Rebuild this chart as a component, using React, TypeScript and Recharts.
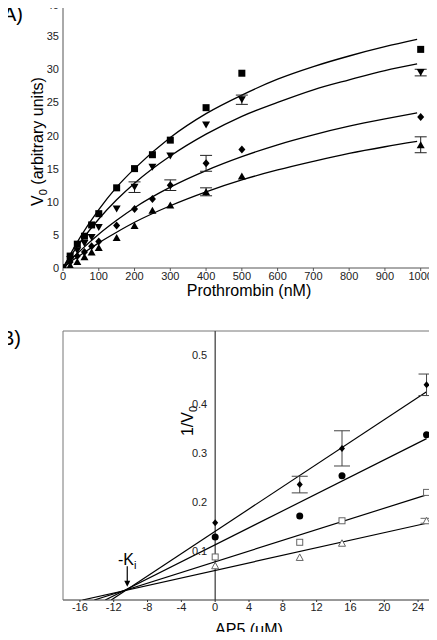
import { ComposedChart, Scatter, Line, XAxis, YAxis, ErrorBar, ReferenceLine, ReferenceDot } from "recharts"

const FONT = "'Liberation Sans', Arial, sans-serif"

// ---- Panel A: V0 vs prothrombin ----
const prothrombin = [0, 20, 40, 60, 80, 100, 150, 200, 250, 300, 400, 500, 1000]
const vSquare = [0, 1.8, 3.6, 4.8, 6.5, 8.2, 12.1, 15.0, 17.1, 19.3, 24.2, 29.4, 33.0]
const vInvTri = [0, 1.3, 2.6, 3.7, 4.6, 6.1, 8.9, 12.2, 15.2, 16.9, 21.6, 25.4, 29.5]
const vDiamond = [0, 0.9, 1.8, 2.4, 3.3, 4.0, 6.4, 8.9, 10.4, 12.5, 15.8, 17.9, 22.8]
const vTri = [0, 0.4, 1.0, 1.7, 2.4, 3.1, 4.6, 6.4, 8.7, 9.5, 11.5, 13.9, 18.6]
const errInvTri = [0, 0, 0, 0, 0, 0, 0, 0.8, 0, 0, 0, 0.7, 0.5]
const errDiamond = [0, 0, 0, 0, 0, 0, 0, 0, 0, 0.8, 1.2, 0, 0]
const errTri = [0, 0, 0, 0, 0, 0, 0, 0, 0, 0, 0.6, 0, 1.2]

// fitted curves
const fitX = [0, 25, 50, 100, 150, 200, 300, 400, 500, 600, 700, 800, 900, 990]
const fitSquare = [0, 2.5, 4.8, 8.8, 12.2, 15.0, 19.7, 23.3, 26.1, 28.5, 30.4, 32.0, 33.4, 34.5]
const fitInvTri = [0, 2.1, 4.0, 7.4, 10.3, 12.8, 16.9, 20.2, 22.9, 25.0, 26.9, 28.4, 29.8, 30.8]
const fitDiamond = [0, 1.4, 2.7, 5.1, 7.2, 9.1, 12.2, 14.7, 16.8, 18.6, 20.1, 21.4, 22.5, 23.4]
const fitTri = [0, 1.1, 2.0, 3.8, 5.4, 6.9, 9.4, 11.5, 13.3, 14.8, 16.1, 17.3, 18.3, 19.1]

const xTicksA = [0, 100, 200, 300, 400, 500, 600, 700, 800, 900, 1000]
const yTicksA = [0, 5, 10, 15, 20, 25, 30, 35, 40]

// ---- Panel B: 1/V0 vs AP5 ----
const ap5 = [0, 10, 15, 25]
const invDiamond = [0.158, 0.236, 0.31, 0.44]
const invDiamondErr = [0, 0.017, 0.036, 0.022]
const invCircle = [0.129, 0.172, 0.254, 0.338]
const invSquare = [0.088, 0.118, 0.162, 0.22]
const invTri = [0.07, 0.087, 0.116, 0.162]
const invTriErr = [0, 0, 0, 0.005]

// fit lines: x where they meet the axis, value at 25 uM
const lineStartX = [-12.3, -13.0, -14.3, -15.7]
const lineEndY = [0.426, 0.33, 0.215, 0.157]
const lineEndX = 25

const xTicksB = [-16, -12, -8, -4, 0, 4, 8, 12, 16, 20, 24]
const yTicksB = [0.1, 0.2, 0.3, 0.4, 0.5]
const kiX = -10.4

const X_DOMAIN_A: [number, number] = [0, 1040]
const X_DOMAIN_B: [number, number] = [-18, 26]
const PLOT_W = 372
const ZERO_PX_B = ((0 - X_DOMAIN_B[0]) / (X_DOMAIN_B[1] - X_DOMAIN_B[0])) * PLOT_W

const minorA = Array.from({ length: 53 }, (_, i) => i * 20)
const minorB = Array.from({ length: 45 }, (_, i) => i - 18)

const pts = (xs: number[], ys: number[], errs?: number[]) =>
  xs.map((x, i) => ({ x, y: ys[i], err: errs ? errs[i] : 0 }))

const fitLine = (i: number) => [
  { x: lineStartX[i], y: 0 },
  { x: lineEndX, y: lineEndY[i] },
]

// marker shapes
const Square = ({ cx, cy }: any) => <rect x={cx - 3.5} y={cy - 3.5} width={7} height={7} fill="#000" />
const TriDown = ({ cx, cy }: any) => (
  <polygon points={`${cx - 4},${cy - 3.5} ${cx + 4},${cy - 3.5} ${cx},${cy + 3.5}`} fill="#000" />
)
const TriUp = ({ cx, cy }: any) => (
  <polygon points={`${cx - 4},${cy + 3.5} ${cx + 4},${cy + 3.5} ${cx},${cy - 3.5}`} fill="#000" />
)
const Diamond = ({ cx, cy }: any) => (
  <polygon points={`${cx},${cy - 4} ${cx + 3.5},${cy} ${cx},${cy + 4} ${cx - 3.5},${cy}`} fill="#000" />
)
const SmallDiamond = ({ cx, cy }: any) => (
  <polygon points={`${cx},${cy - 3.5} ${cx + 3},${cy} ${cx},${cy + 3.5} ${cx - 3},${cy}`} fill="#000" />
)
const Dot = ({ cx, cy }: any) => <circle cx={cx} cy={cy} r={3.5} fill="#000" />
const OpenSquare = ({ cx, cy }: any) => (
  <rect x={cx - 3} y={cy - 3} width={6} height={6} fill="#fff" stroke="#666" strokeWidth={1} />
)
const OpenTri = ({ cx, cy }: any) => (
  <polygon points={`${cx - 3.5},${cy + 3} ${cx + 3.5},${cy + 3} ${cx},${cy - 3.5}`} fill="#fff" stroke="#666" strokeWidth={1} />
)

const YTitleA = ({ viewBox }: any) => {
  const x = 37
  const y = viewBox.y + viewBox.height / 2 + 6
  return (
    <text x={x} y={y} transform={`rotate(-90 ${x} ${y})`} textAnchor="middle" dominantBaseline="central" fontSize={16} fill="#000">
      V<tspan baselineShift="sub" fontSize={11}>0</tspan>
      <tspan> (arbitrary units)</tspan>
    </text>
  )
}

const YTitleB = ({ viewBox }: any) => {
  const x = viewBox.x + viewBox.width + ZERO_PX_B - 28
  const y = viewBox.y + 90
  return (
    <text x={x} y={y} transform={`rotate(-90 ${x} ${y})`} textAnchor="middle" dominantBaseline="central" fontSize={16} fill="#000">
      1/V<tspan baselineShift="sub" fontSize={11}>0</tspan>
    </text>
  )
}

const KiLabel = ({ cx, cy }: any) => (
  <text x={cx} y={cy} textAnchor="middle" dominantBaseline="central" fontSize={16} fill="#000">
    -K<tspan baselineShift="sub" fontSize={11}>i</tspan>
  </text>
)

const Arrow = ({ x1, y1, x2, y2 }: any) => (
  <g>
    <line x1={x1} y1={y1} x2={x2} y2={y2 - 5} stroke="#000" strokeWidth={1.2} />
    <polygon points={`${x2 - 3},${y2 - 6} ${x2 + 3},${y2 - 6} ${x2},${y2}`} fill="#000" />
  </g>
)

const tickStyle = { fontSize: 11, fill: "#222" }

// y tick for panel A, kept inside the picture at the top
const YTickA = (p: any) => (
  <text x={p.x} y={Math.max(p.y, 5)} dy={4} textAnchor="end" fontSize={11} fill="#222">
    {p.payload.value}
  </text>
)

function PanelA() {
  const curves = [fitSquare, fitInvTri, fitDiamond, fitTri]
  return (
    <ComposedChart width={437} height={300} margin={{ top: 3, right: 2, bottom: 0, left: 0 }}>
      <XAxis
        type="number"
        dataKey="x"
        domain={X_DOMAIN_A}
        allowDataOverflow
        ticks={xTicksA}
        interval={0}
        tickSize={3}
        tickMargin={1}
        tick={tickStyle}
        stroke="#555"
        height={32}
        label={{ value: "Prothrombin (nM)", position: "insideBottom", offset: 4, fontSize: 16, fill: "#000" }}
      />
      <XAxis xAxisId="minor" type="number" dataKey="x" domain={X_DOMAIN_A} allowDataOverflow ticks={minorA} interval={0} mirror tick={false} axisLine={false} tickSize={2} stroke="#666" />
      <YAxis
        type="number"
        dataKey="y"
        domain={[0, 40]}
        allowDataOverflow
        ticks={yTicksA}
        interval={0}
        width={63}
        tickLine={false}
        tickSize={4}
        tickMargin={0}
        tick={YTickA}
        stroke="#555"
        label={<YTitleA />}
      />
      <ReferenceLine y={40} stroke="#777" />
      <ReferenceLine x={1040} stroke="#777" />
      {curves.map((c, i) => (
        <Line
          key={i}
          data={pts(fitX, c)}
          dataKey="y"
          type="monotone"
          dot={false}
          stroke="#000"
          strokeWidth={1.3}
          isAnimationActive={false}
        />
      ))}
      <Scatter data={pts(prothrombin, vSquare)} dataKey="y" shape={Square} isAnimationActive={false} />
      <Scatter data={pts(prothrombin, vInvTri, errInvTri)} dataKey="y" shape={TriDown} isAnimationActive={false}>
        <ErrorBar dataKey="err" direction="y" width={6} stroke="#222" strokeWidth={1} />
      </Scatter>
      <Scatter data={pts(prothrombin, vDiamond, errDiamond)} dataKey="y" shape={Diamond} isAnimationActive={false}>
        <ErrorBar dataKey="err" direction="y" width={6} stroke="#222" strokeWidth={1} />
      </Scatter>
      <Scatter data={pts(prothrombin, vTri, errTri)} dataKey="y" shape={TriUp} isAnimationActive={false}>
        <ErrorBar dataKey="err" direction="y" width={6} stroke="#222" strokeWidth={1} />
      </Scatter>
    </ComposedChart>
  )
}

function PanelB() {
  return (
    <ComposedChart width={437} height={340} margin={{ top: 31, right: 2, bottom: 0, left: 0 }}>
      <XAxis
        type="number"
        dataKey="x"
        domain={X_DOMAIN_B}
        allowDataOverflow
        ticks={xTicksB}
        interval={0}
        tickSize={2}
        tickMargin={1}
        tick={tickStyle}
        stroke="#333"
        height={40}
        label={{ value: "AP5 (\u03bcM)", position: "insideBottom", offset: 5, fontSize: 16, fill: "#000" }}
      />
      <XAxis xAxisId="minor" type="number" dataKey="x" domain={X_DOMAIN_B} allowDataOverflow ticks={minorB} interval={0} mirror tick={false} axisLine={false} tickSize={2} stroke="#555" />
      <YAxis
        type="number"
        dataKey="y"
        domain={[0, 0.55]}
        allowDataOverflow
        ticks={yTicksB}
        interval={0}
        width={63}
        tickLine={false}
        tickSize={0}
        tickMargin={8}
        stroke="#777"
        tick={(p: any) => (
          <text x={p.x + ZERO_PX_B} y={p.y} dy={4} textAnchor="end" fontSize={11} fill="#222">
            {p.payload.value}
          </text>
        )}
        label={<YTitleB />}
      />
      <ReferenceLine y={0.55} stroke="#777" />
      <ReferenceLine x={26} stroke="#777" />
      <ReferenceLine x={0} stroke="#444" strokeWidth={1.3} />
      {lineStartX.map((_, i) => (
        <Line
          key={i}
          data={fitLine(i)}
          dataKey="y"
          type="linear"
          dot={false}
          stroke="#000"
          strokeWidth={1.2}
          isAnimationActive={false}
        />
      ))}
      <ReferenceLine segment={[{ x: kiX, y: 0.069 }, { x: kiX, y: 0.027 }]} shape={Arrow} />
      <ReferenceDot x={kiX} y={0.083} r={0} shape={KiLabel} />
      <Scatter data={pts(ap5, invDiamond, invDiamondErr)} dataKey="y" shape={SmallDiamond} isAnimationActive={false}>
        <ErrorBar dataKey="err" direction="y" width={8} stroke="#444" strokeWidth={1} />
      </Scatter>
      <Scatter data={pts(ap5, invCircle)} dataKey="y" shape={Dot} isAnimationActive={false} />
      <Scatter data={pts(ap5, invSquare)} dataKey="y" shape={OpenSquare} isAnimationActive={false} />
      <Scatter data={pts(ap5, invTri, invTriErr)} dataKey="y" shape={OpenTri} isAnimationActive={false}>
        <ErrorBar dataKey="err" direction="y" width={6} stroke="#666" strokeWidth={1} />
      </Scatter>
    </ComposedChart>
  )
}

export default function App() {
  return (
    <div style={{ position: "relative", width: 437, height: 640, margin: -8, fontFamily: FONT, background: "#fff" }}>
      <div style={{ position: "absolute", left: 0, top: 0 }}>
        <PanelA />
      </div>
      <div style={{ position: "absolute", left: 0, top: 300 }}>
        <PanelB />
      </div>
      <div style={{ position: "absolute", left: 3, top: 2, fontSize: 20, lineHeight: "24px", zIndex: 2 }}>A)</div>
      <div style={{ position: "absolute", left: 1, top: 326, fontSize: 20, lineHeight: "24px", zIndex: 2 }}>B)</div>
    </div>
  )
}
